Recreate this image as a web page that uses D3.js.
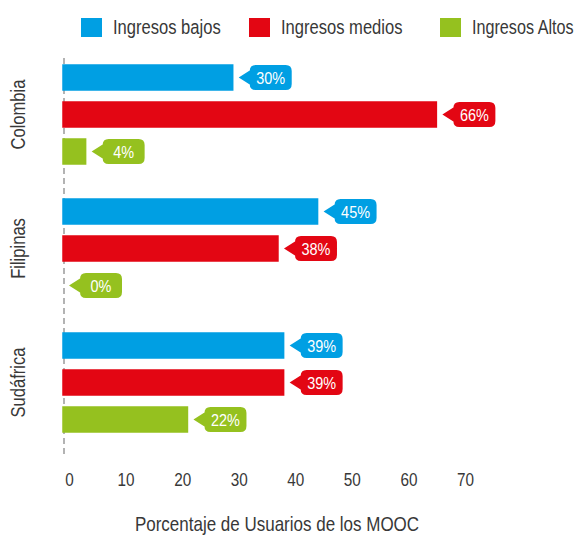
<!DOCTYPE html>
<html>
<head>
<meta charset="utf-8">
<script src="https://cdn.jsdelivr.net/npm/d3@7/dist/d3.min.js"></script>
<style>
  html, body { margin: 0; padding: 0; background: #fff; }
  svg text { font-family: "Liberation Sans", Arial, sans-serif; }
</style>
</head>
<body>
<svg id="chart" width="581" height="536"></svg>
<script>
// Share of MOOC users by income level, per country
const countries = ["Colombia", "Filipinas", "Sudáfrica"];
const series = ["Ingresos bajos", "Ingresos medios", "Ingresos Altos"];
const colors = ["#009fe3", "#e30613", "#95c11f"];
const bajos = [30, 45, 39];
const medios = [66, 38, 39];
const altos = [4, 0, 22];
const xTicks = [0, 10, 20, 30, 40, 50, 60, 70];
const xTitle = "Porcentaje de Usuarios de los MOOC";

const values = [bajos, medios, altos];
const rows = [];
countries.forEach((c, ci) => {
  series.forEach((s, si) => rows.push({ country: c, series: s, si, value: values[si][ci] }));
});

const svg = d3.select("#chart");
const textColor = "#383838";
const K = 0.85; // horizontal squeeze for a condensed typeface look

const x = d3.scaleLinear().domain([0, 70]).range([63, 459]);
const y0 = d3.scaleBand().domain(countries).range([59, 461]);
const y1 = d3.scaleBand().domain(series).range([0, 111])
  .paddingInner(12 / 37).paddingOuter(6 / 37);
const color = d3.scaleOrdinal().domain(series).range(colors);

// Legend
const legendX = [81, 249, 440];
const legend = svg.append("g");
series.forEach((s, i) => {
  const g = legend.append("g").attr("transform", `translate(${legendX[i]},18)`);
  g.append("rect").attr("width", 21).attr("height", 19).attr("fill", color(s));
  g.append("text").attr("transform", `translate(32,16) scale(${i === 2 ? 0.83 : K},1)`)
    .attr("font-size", 19.5).attr("fill", textColor).text(s);
});

// Dashed baseline
svg.append("line")
  .attr("x1", x(0) + 1).attr("x2", x(0) + 1)
  .attr("y1", 58).attr("y2", 454)
  .attr("stroke", "#9a9a9a").attr("stroke-width", 1.5)
  .attr("stroke-dasharray", "6,4");

// Bars
const bars = svg.append("g");
bars.selectAll("rect").data(rows).join("rect")
  .attr("x", x(0))
  .attr("y", d => y0(d.country) + y1(d.series))
  .attr("width", d => x(d.value) - x(0))
  .attr("height", y1.bandwidth())
  .attr("fill", d => color(d.series))
  .attr("stroke", d => color(d.series))
  .attr("stroke-width", 1.5);

// Value callouts
const bw = y1.bandwidth();
const callouts = svg.append("g").selectAll("g").data(rows).join("g")
  .attr("transform", d => `translate(${x(d.value) + 6},${y0(d.country) + y1(d.series)})`);
callouts.append("path")
  .attr("d", () => {
    const tw = 11, w = 42, r = 6, h = bw, m = h / 2;
    return `M0,${m} L${tw},${m - 7} L${tw},${r} Q${tw},0 ${tw + r},0 ` +
      `L${tw + w - r},0 Q${tw + w},0 ${tw + w},${r} L${tw + w},${h - r} ` +
      `Q${tw + w},${h} ${tw + w - r},${h} L${tw + r},${h} Q${tw},${h} ${tw},${h - r} ` +
      `L${tw},${m + 7} Z`;
  })
  .attr("fill", d => color(d.series));
callouts.append("text")
  .attr("transform", `translate(32,${bw / 2 + 6}) scale(${K},1)`)
  .attr("text-anchor", "middle").attr("font-size", 17)
  .attr("fill", "#fff")
  .text(d => d.value + "%");

// Country labels
svg.append("g").selectAll("text").data(countries).join("text")
  .attr("transform", c => {
    const top = y0(c) + y1(series[0]);
    const bottom = y0(c) + y1(series[2]) + bw;
    return `translate(25,${(top + bottom) / 2}) rotate(-90) scale(${K},1)`;
  })
  .attr("text-anchor", "middle").attr("font-size", 19.5)
  .attr("fill", textColor).text(c => c);

// X axis
const axis = svg.append("g").attr("transform", "translate(0,468)")
  .call(d3.axisBottom(x).tickValues(xTicks).tickSize(0).tickPadding(0));
axis.select(".domain").remove();
axis.selectAll("text")
  .attr("x", 0).attr("y", 0).attr("dy", 0)
  .attr("transform", `translate(6,18) scale(${K},1)`)
  .attr("font-size", 18).attr("fill", textColor)
  .style("font-family", "'Liberation Sans', Arial, sans-serif");

svg.append("text")
  .attr("transform", `translate(277,531) scale(${K},1)`)
  .attr("text-anchor", "middle").attr("font-size", 20)
  .attr("fill", textColor).text(xTitle);
</script>
</body>
</html>
